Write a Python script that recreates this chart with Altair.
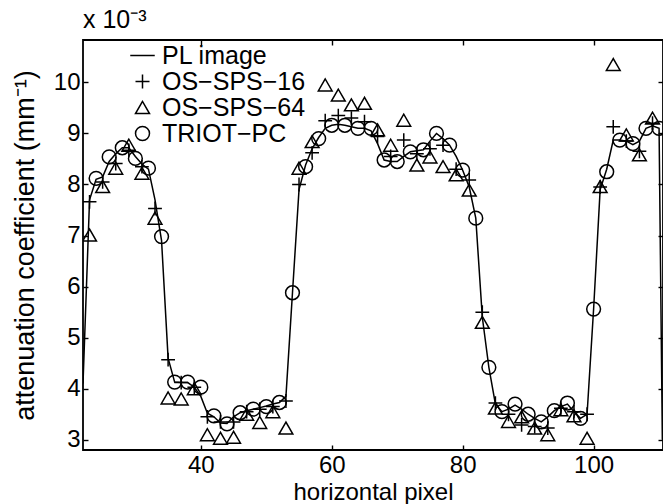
import altair as alt
import pandas as pd

FONT = "Liberation Sans"

# ---- data (values in units of 1e-3 mm^-1) ----
pl_x = list(range(22, 111)) + [110.5]
pl_y = [
    4.1, 7.7, 8.1, 8.15, 8.45, 8.6, 8.72, 8.72, 8.55, 8.4,        # 22-31
    8.3, 7.7, 6.9, 4.6, 4.13, 4.12, 4.12, 4.03, 3.85, 3.52,       # 32-41
    3.45, 3.33, 3.32, 3.45, 3.53, 3.57, 3.6, 3.63, 3.66, 3.7,     # 42-51
    3.73, 3.85, 5.88, 7.9, 8.38, 8.7, 8.92, 9.1, 9.16, 9.18,      # 52-61
    9.16, 9.13, 9.1, 9.1, 9.05, 8.8, 8.48, 8.45, 8.45, 8.55,      # 62-71
    8.64, 8.66, 8.68, 8.85, 9.0, 8.9, 8.77, 8.55, 8.28, 7.95,     # 72-81
    7.34, 5.4, 4.42, 3.7, 3.55, 3.6, 3.68, 3.6, 3.5, 3.42,        # 82-91
    3.35, 3.45, 3.57, 3.65, 3.7, 3.55, 3.42, 3.5, 5.56, 7.9,      # 92-101
    8.3, 8.87, 8.87, 8.85, 8.78, 8.85, 9.1, 9.15, 9.1,            # 102-110
    3.0,                                                          # 110.5
]

odd_x = list(range(23, 110, 2))
sps16 = [
    7.66, 8.05, 8.41, 8.67, 8.35, 7.53, 4.57, 4.12, 4.03, 3.45,   # 23-41
    3.35, 3.35, 3.55, 3.6, 3.65, 3.76, 8.0, 8.62, 9.25, 9.35,     # 43-61
    9.3, 9.23, 8.94, 8.55, 8.87, 8.6, 8.7, 8.77, 8.3, 8.09,       # 63-81
    5.5, 3.72, 3.5, 3.29, 3.26, 3.23, 3.62, 3.55, 3.5, 7.95,      # 83-101
    9.13, 8.85, 8.65, 9.2,                                        # 103-109
]
sps64 = [
    7.01, 7.96, 8.32, 8.77, 8.22, 7.34, 3.82, 3.8, 4.0, 3.1,      # 23-41
    3.03, 3.05, 3.5, 3.34, 3.55, 3.23, 8.32, 8.84, 9.95, 9.75,    # 43-61
    9.56, 9.59, 9.07, 8.77, 9.26, 8.38, 8.54, 8.35, 8.19, 7.89,   # 63-81
    5.3, 3.62, 3.36, 3.45, 3.23, 3.1, 3.59, 3.47, 3.03, 7.96,     # 83-101
    10.35, 8.97, 8.58, 9.3,                                       # 103-109
]
even_x = list(range(24, 111, 2))
triot = [
    8.12, 8.54, 8.72, 8.51, 8.32, 6.98, 4.13, 4.13, 4.03, 3.47,   # 24-42
    3.31, 3.53, 3.6, 3.65, 3.73, 5.88, 8.35, 8.9, 9.16, 9.16,     # 44-62
    9.1, 9.1, 8.48, 8.45, 8.64, 8.68, 9.0, 8.77, 8.28, 7.34,      # 64-82
    4.42, 3.55, 3.7, 3.5, 3.35, 3.57, 3.72, 3.42, 5.56, 8.25,     # 84-102
    8.87, 8.8, 9.1, 9.1,                                          # 104-110
]

series_names = ["PL image", "OS\u2212SPS\u221216", "OS\u2212SPS\u221264", "TRIOT\u2212PC"]
shape_range = ["M-1.75,0H1.75", "M-1,0H1M0,-1V1", "triangle-up", "circle"]

x_ticks = [40, 60, 80, 100]
y_ticks = [3, 4, 5, 6, 7, 8, 9, 10]

line_df = pd.DataFrame({"x": pl_x, "y": pl_y})
pts_df = pd.DataFrame({
    "x": odd_x + odd_x + even_x,
    "y": sps16 + sps64 + triot,
    "series": [series_names[1]] * len(sps16)
    + [series_names[2]] * len(sps64)
    + [series_names[3]] * len(triot),
})

xscale = alt.Scale(domain=[22, 110.6], nice=False, zero=False)
yscale = alt.Scale(domain=[2.8, 10.83], nice=False, zero=False)

tick_axis = dict(
    domain=False, grid=False, offset=-5, tickSize=5, tickWidth=1.4,
    tickColor="black", labelFont=FONT, labelFontSize=24, labelColor="black",
)
title_style = dict(titleFont=FONT, titleColor="black", titleFontWeight="normal")

line = alt.Chart(line_df).mark_line(color="black", strokeWidth=1.5, clip=True).encode(
    x=alt.X("x:Q", scale=xscale,
            axis=alt.Axis(orient="bottom", values=x_ticks, format="d",
                          labelPadding=3, title="horizontal pixel",
                          titleFontSize=24, titleBaseline="alphabetic",
                          titleY=54, **title_style, **tick_axis)),
    y=alt.Y("y:Q", scale=yscale,
            axis=alt.Axis(orient="left", values=y_ticks, format="d",
                          labelPadding=3,
                          title="attenuation coefficient (mm\u207b\u00b9)",
                          titleFontSize=27, titlePadding=14,
                          **title_style, **tick_axis)),
)

points = alt.Chart(pts_df).mark_point(
    filled=False, color="black", strokeWidth=1.5, size=190, clip=True, opacity=1
).encode(
    x=alt.X("x:Q", scale=xscale,
            axis=alt.Axis(orient="top", values=x_ticks, labels=False, title=None,
                          **tick_axis)),
    y=alt.Y("y:Q", scale=yscale,
            axis=alt.Axis(orient="right", values=y_ticks, labels=False, title=None,
                          **tick_axis)),
    shape=alt.Shape(
        "series:N",
        scale=alt.Scale(domain=series_names, range=shape_range),
        legend=alt.Legend(
            orient="none", legendX=47, legendY=3, title=None,
            labelFont=FONT, labelFontSize=25, labelColor="black",
            symbolSize=196, symbolStrokeWidth=1.5, symbolStrokeColor="black",
            symbolFillColor="transparent", symbolOpacity=1,
            labelOffset=7, rowPadding=0, padding=0, symbolOffset=0,
        ),
    ),
)

chart = (
    alt.layer(line, points)
    .resolve_axis(x="independent", y="independent")
    .properties(
        width=580, height=410,
        padding={"left": 83, "top": 40, "right": 0, "bottom": 54},
        autosize=alt.AutoSizeParams(type="none"),
        title=alt.TitleParams("x 10\u207b\u00b3", anchor="start", frame="group",
                              fontSize=25, font=FONT, fontWeight="normal",
                              color="black", offset=6),
        background="white",
    )
    .configure_view(stroke="black", strokeWidth=1.8)
)

chart.save("out.html", embed_options={"renderer": "svg", "actions": False})
